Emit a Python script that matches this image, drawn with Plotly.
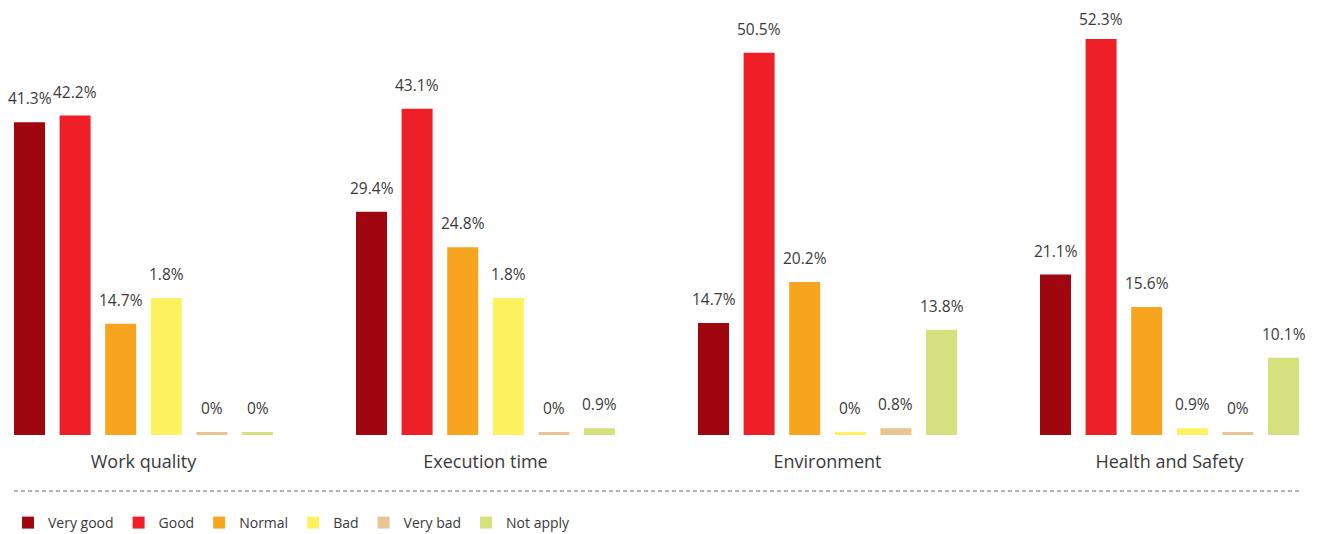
import plotly.graph_objects as go

categories = ["Work quality", "Execution time", "Environment", "Health and Safety"]
series = ["Very good", "Good", "Normal", "Bad", "Very bad", "Not apply"]
colors = ["#a0060f", "#ee1f27", "#f7a51e", "#fff260", "#e8c591", "#d4e17d"]

# bar heights as drawn in the picture (percent)
heights = {
    "Very good": [41.3, 29.5, 14.8, 21.2],
    "Good":      [42.2, 43.1, 50.5, 52.3],
    "Normal":    [14.7, 24.8, 20.2, 16.9],
    "Bad":       [18.1, 18.1, 0.4, 0.9],
    "Very bad":  [0.4, 0.4, 0.9, 0.4],
    "Not apply": [0.4, 0.9, 13.9, 10.2],
}
# printed value labels
labels = {
    "Very good": ["41.3%", "29.4%", "14.7%", "21.1%"],
    "Good":      ["42.2%", "43.1%", "50.5%", "52.3%"],
    "Normal":    ["14.7%", "24.8%", "20.2%", "15.6%"],
    "Bad":       ["1.8%", "1.8%", "0%", "0.9%"],
    "Very bad":  ["0%", "0%", "0.8%", "0%"],
    "Not apply": ["0%", "0.9%", "13.8%", "10.1%"],
}

FONT = "'Open Sans', 'Noto Sans', sans-serif"
TXT = "#3a3a3a"

W, H = 1311, 526          # page body has an 8px margin
PLOT_H = 427
PX_PER_PCT = 7.57
BARGAP, GROUPGAP = 0.2, 0.32
CAT_PX = 342               # pixels per category
SLOT = CAT_PX * (1 - BARGAP) / len(series)
LABEL_SHIFT = 24
LABEL_HALF = 11            # half the label box height

fig = go.Figure()
for j, (name, col) in enumerate(zip(series, colors)):
    fig.add_trace(go.Bar(
        name=name, x=categories, y=heights[name],
        marker=dict(color=col, line=dict(width=0)),
        hoverinfo="skip",
    ))
    for cat, h, lab in zip(categories, heights[name], labels[name]):
        room = PLOT_H - h * PX_PER_PCT - LABEL_HALF   # keep label inside the figure
        fig.add_annotation(
            x=cat, y=h, xref="x", yref="y", text=lab, showarrow=False,
            xshift=(j - (len(series) - 1) / 2) * SLOT,
            yshift=min(LABEL_SHIFT, room),
            xanchor="center", yanchor="middle", borderpad=0,
            font=dict(size=15.5, color=TXT, family=FONT),
        )

fig.update_layout(
    width=W, height=H,
    margin=dict(l=0, r=0, t=0, b=H - PLOT_H, autoexpand=False),
    paper_bgcolor="white", plot_bgcolor="white",
    barmode="group", bargap=BARGAP, bargroupgap=GROUPGAP,
    font=dict(family=FONT, color=TXT),
    xaxis=dict(range=[-135.5 / CAT_PX, (W - 135.5) / CAT_PX], showgrid=False,
               showline=False, zeroline=False, automargin=False,
               ticks="outside", ticklen=0, ticklabelstandoff=10,
               tickfont=dict(size=18, color=TXT, family=FONT)),
    yaxis=dict(range=[0, PLOT_H / PX_PER_PCT], visible=False, showgrid=False,
               zeroline=False, automargin=False),
    showlegend=True,
    legend=dict(orientation="h", xref="container", yref="container",
                x=0, y=11 / H, xanchor="left", yanchor="middle",
                font=dict(size=14, color=TXT, family=FONT),
                itemwidth=30, tracegroupgap=0, traceorder="normal"),
)

fig.add_shape(type="line", xref="paper", yref="paper",
              x0=6 / W, x1=1291 / W, y0=-(483 - PLOT_H) / PLOT_H, y1=-(483 - PLOT_H) / PLOT_H,
              line=dict(color="#666666", width=1, dash="4px,3px"))

fig.write_html("out.html")
